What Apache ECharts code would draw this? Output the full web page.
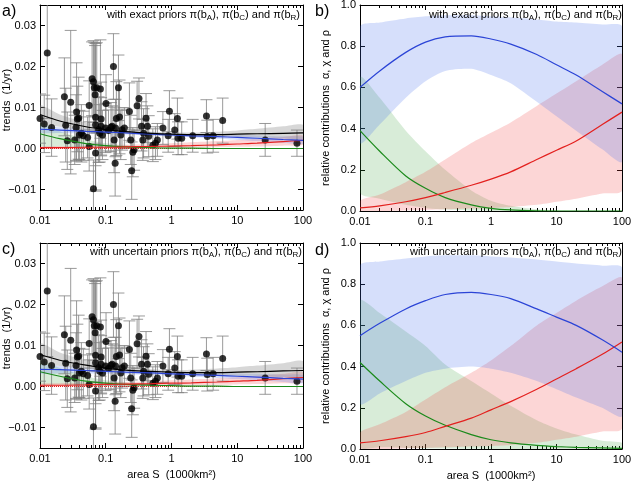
<!DOCTYPE html>
<html>
<head>
<meta charset="utf-8">
<script src="https://cdn.jsdelivr.net/npm/echarts@6/dist/echarts.min.js"></script>
<style>
  html, body { margin: 0; background: #fff; }
  #chart { width: 633px; height: 482px; }
</style>
</head>
<body>
<div id="chart"></div>
<script>
// observed trends (same set in a and c): area S, trend, error half-width
const obsS = [0.01, 0.0116, 0.0129, 0.015, 0.0235, 0.0246, 0.026, 0.0293, 0.0337, 0.0353,
  0.036, 0.037, 0.0387, 0.0397, 0.0426, 0.0457, 0.053, 0.056, 0.056, 0.062,
  0.065, 0.067, 0.069, 0.07, 0.07, 0.073, 0.07, 0.065, 0.078, 0.081,
  0.083, 0.085, 0.085, 0.089, 0.101, 0.099, 0.11, 0.12, 0.125, 0.131,
  0.134, 0.139, 0.141, 0.145, 0.156, 0.162, 0.169, 0.177, 0.192, 0.229,
  0.24, 0.248, 0.258, 0.27, 0.30, 0.32, 0.35, 0.366, 0.376, 0.41,
  0.43, 0.45, 0.52, 0.57, 0.61, 0.74, 0.93, 0.89, 1.12, 1.23,
  1.26, 1.43, 2.1, 3.4, 3.5, 4.3, 6.0, 26.6, 81];
const obsTrend = [0.0073, 0.0060, 0.0233, 0.0051, 0.0126, 0.0057, 0.0019, 0.0113, 0.0021, 0.0051,
  0.0089, 0.0072, 0.0074, 0.0033, 0.0037, 0.0031, 0.0027, 0.0105, 0.0005, 0.0170,
  0.0163, 0.0148, 0.0131, 0.0076, 0.0058, 0.0148, -0.0011, -0.0098, 0.0046, 0.0037,
  0.0145, 0.0072, 0.0054, 0.0033, 0.0110, 0.0050, 0.0044, 0.0052, 0.0054, 0.0200,
  0.0021, -0.0036, 0.0050, 0.0073, 0.0148, 0.0077, 0.0033, 0.0046, 0.0050, 0.0090,
  0.0021, -0.0054, -0.0009, -0.0003, 0.0104, 0.0122, 0.0054, 0.0021, 0.0037, 0.0074,
  0.0054, 0.0030, 0.0008, 0.0013, 0.0021, 0.0050, 0.0091, 0.0031, 0.0045, 0.0073,
  0.0025, 0.0025, 0.0031, 0.0079, 0.0029, 0.0031, 0.0068, 0.0021, 0.0013];
const obsErr = [0.006, 0.007, 0.016, 0.007, 0.0095, 0.009, 0.007, 0.0175, 0.006, 0.008,
  0.012, 0.008, 0.010, 0.006, 0.007, 0.006, 0.005, 0.006, 0.006, 0.009,
  0.010, 0.011, 0.012, 0.018, 0.010, 0.011, 0.009, 0.007, 0.008, 0.007,
  0.012, 0.009, 0.007, 0.006, 0.007, 0.006, 0.005, 0.006, 0.005, 0.008,
  0.008, 0.008, 0.007, 0.009, 0.008, 0.009, 0.006, 0.005, 0.005, 0.007,
  0.006, 0.007, 0.006, 0.005, 0.006, 0.005, 0.006, 0.005, 0.006, 0.006,
  0.005, 0.005, 0.004, 0.004, 0.004, 0.004, 0.005, 0.004, 0.004, 0.005,
  0.004, 0.004, 0.004, 0.004, 0.004, 0.004, 0.0055, 0.004, 0.0032];

// area values where the fitted curves were read
const sGrid = [0.01, 0.02, 0.05, 0.1, 0.2, 0.5, 1, 2, 5, 10, 20, 50, 100];

// panel a: exact priors, trends
const aBlack   = [0.0083, 0.0067, 0.0053, 0.0046, 0.0041, 0.0037, 0.0035, 0.0034, 0.0034, 0.0035, 0.0036, 0.0037, 0.0038];
const aBlackHi = [0.0105, 0.0083, 0.0063, 0.0053, 0.0046, 0.0041, 0.0039, 0.0039, 0.0041, 0.0044, 0.0048, 0.0054, 0.0058];
const aBlackLo = [0.0063, 0.0053, 0.0044, 0.0040, 0.0036, 0.0033, 0.0031, 0.0030, 0.0029, 0.0028, 0.0027, 0.0025, 0.0024];
const aBlue    = [0.0047, 0.0045, 0.0042, 0.0040, 0.0038, 0.0035, 0.0033, 0.0031, 0.0029, 0.0027, 0.0025, 0.0022, 0.0020];
const aBlueHi  = [0.0055, 0.0052, 0.0048, 0.0045, 0.0042, 0.0039, 0.0037, 0.0035, 0.0034, 0.0033, 0.0032, 0.0030, 0.0029];
const aBlueLo  = [0.0039, 0.0038, 0.0036, 0.0035, 0.0034, 0.0031, 0.0029, 0.0027, 0.0024, 0.0021, 0.0018, 0.0014, 0.0011];
const aGreen   = [0.0036, 0.0024, 0.0012, 0.0007, 0.0004, 0.0002, 0.0001, 0.0001, 0, 0, 0, 0, 0];
const aGreenHi = [0.0062, 0.0042, 0.0022, 0.0013, 0.0008, 0.0004, 0.0002, 0.0001, 0.0001, 0, 0, 0, 0];
const aGreenLo = [0.0008, 0.0005, 0.0002, 0.0001, 0, 0, 0, 0, 0, 0, 0, 0, 0];
const aRed     = [0.0002, 0.0002, 0.0003, 0.0003, 0.0004, 0.0005, 0.0006, 0.0007, 0.0009, 0.0011, 0.0013, 0.0017, 0.0020];
const aRedHi   = [0.0005, 0.0006, 0.0007, 0.0008, 0.0009, 0.0011, 0.0013, 0.0015, 0.0018, 0.0021, 0.0024, 0.0028, 0.0032];
const aRedLo   = [0, 0, 0, 0, 0, 0.0001, 0.0001, 0.0002, 0.0003, 0.0004, 0.0005, 0.0007, 0.0009];

// panel c: uncertain priors, trends
const cBlack   = [0.0078, 0.0064, 0.0052, 0.0045, 0.0040, 0.0037, 0.0035, 0.0034, 0.0034, 0.0035, 0.0036, 0.0038, 0.0039];
const cBlackHi = [0.0105, 0.0083, 0.0064, 0.0054, 0.0047, 0.0042, 0.0040, 0.0041, 0.0044, 0.0047, 0.0051, 0.0057, 0.0062];
const cBlackLo = [0.0058, 0.0050, 0.0043, 0.0039, 0.0035, 0.0033, 0.0031, 0.0029, 0.0027, 0.0026, 0.0025, 0.0023, 0.0022];
const cBlue    = [0.0042, 0.0041, 0.0039, 0.0037, 0.0035, 0.0033, 0.0031, 0.0029, 0.0027, 0.0025, 0.0023, 0.0020, 0.0018];
const cBlueHi  = [0.0052, 0.0050, 0.0046, 0.0043, 0.0040, 0.0038, 0.0036, 0.0034, 0.0033, 0.0032, 0.0031, 0.0029, 0.0028];
const cBlueLo  = [0.0032, 0.0032, 0.0032, 0.0031, 0.0030, 0.0028, 0.0026, 0.0024, 0.0021, 0.0018, 0.0015, 0.0011, 0.0008];
const cGreen   = [0.0036, 0.0025, 0.0013, 0.0008, 0.0005, 0.0003, 0.0002, 0.0001, 0.0001, 0, 0, 0, 0];
const cGreenHi = [0.0064, 0.0045, 0.0025, 0.0015, 0.0010, 0.0006, 0.0004, 0.0003, 0.0002, 0.0001, 0.0001, 0, 0];
const cGreenLo = [0.0008, 0.0005, 0.0002, 0.0001, 0, 0, 0, 0, 0, 0, 0, 0, 0];
const cRed     = [0.0003, 0.0003, 0.0004, 0.0005, 0.0006, 0.0007, 0.0008, 0.0009, 0.0011, 0.0013, 0.0015, 0.0019, 0.0022];
const cRedHi   = [0.0007, 0.0008, 0.0009, 0.0010, 0.0011, 0.0013, 0.0015, 0.0017, 0.0020, 0.0023, 0.0026, 0.0031, 0.0035];
const cRedLo   = [0, 0, 0, 0.0001, 0.0001, 0.0002, 0.0002, 0.0003, 0.0004, 0.0005, 0.0006, 0.0008, 0.0010];

// panel b: exact priors, relative contributions
const bBlue    = [0.60, 0.68, 0.77, 0.82, 0.845, 0.85, 0.835, 0.81, 0.76, 0.71, 0.66, 0.58, 0.52];
const bBlueHi  = [0.895, 0.915, 0.935, 0.945, 0.95, 0.95, 0.945, 0.94, 0.93, 0.92, 0.915, 0.905, 0.895];
const bBlueLo  = [0.33, 0.42, 0.55, 0.63, 0.68, 0.69, 0.66, 0.62, 0.53, 0.46, 0.39, 0.30, 0.24];
const bGreen   = [0.39, 0.29, 0.17, 0.11, 0.065, 0.03, 0.013, 0.005, 0.001, 0, 0, 0, 0];
const bGreenHi = [0.65, 0.55, 0.39, 0.29, 0.20, 0.10, 0.05, 0.025, 0.008, 0.003, 0.001, 0, 0];
const bGreenLo = [0.09, 0.06, 0.03, 0.015, 0.007, 0.002, 0, 0, 0, 0, 0, 0, 0];
const bRed     = [0.015, 0.025, 0.045, 0.065, 0.09, 0.125, 0.155, 0.19, 0.25, 0.295, 0.34, 0.42, 0.48];
const bRedHi   = [0.05, 0.08, 0.14, 0.19, 0.25, 0.33, 0.38, 0.43, 0.51, 0.57, 0.63, 0.71, 0.76];
const bRedLo   = [0, 0, 0.003, 0.005, 0.008, 0.012, 0.015, 0.02, 0.03, 0.045, 0.06, 0.085, 0.10];

// panel d: uncertain priors, relative contributions
const dBlue    = [0.55, 0.61, 0.68, 0.72, 0.75, 0.76, 0.75, 0.73, 0.68, 0.64, 0.60, 0.53, 0.47];
const dBlueHi  = [0.89, 0.91, 0.925, 0.935, 0.94, 0.94, 0.935, 0.93, 0.92, 0.91, 0.90, 0.89, 0.88];
const dBlueLo  = [0.22, 0.27, 0.33, 0.37, 0.39, 0.40, 0.39, 0.37, 0.33, 0.29, 0.25, 0.20, 0.16];
const dGreen   = [0.42, 0.33, 0.22, 0.16, 0.115, 0.07, 0.045, 0.03, 0.018, 0.012, 0.008, 0.005, 0.003];
const dGreenHi = [0.72, 0.66, 0.57, 0.50, 0.41, 0.33, 0.27, 0.21, 0.14, 0.10, 0.07, 0.04, 0.03];
const dGreenLo = [0.01, 0.008, 0.005, 0.003, 0.002, 0.001, 0, 0, 0, 0, 0, 0, 0];
const dRed     = [0.03, 0.04, 0.06, 0.08, 0.11, 0.15, 0.19, 0.23, 0.29, 0.34, 0.39, 0.46, 0.52];
const dRedHi   = [0.08, 0.12, 0.18, 0.24, 0.30, 0.37, 0.43, 0.50, 0.60, 0.66, 0.72, 0.79, 0.83];
const dRedLo   = [0, 0, 0.003, 0.005, 0.008, 0.012, 0.015, 0.02, 0.03, 0.045, 0.06, 0.085, 0.10];

const trendTicks = [-0.01, 0, 0.01, 0.02, 0.03];

// minor ticks of the log axis (2..9 in each decade), as log10 positions
const minorX = [];
for (let n = -2; n < 2; n++) {
  for (let k = 2; k <= 9; k++) minorX.push(Math.log10(k * Math.pow(10, n)));
}

const FONT = 'Liberation Sans';
const BLUE = '#2b44d6', RED = '#e3201e', GREEN = '#1b8a1b';
const BLUE_F = 'rgba(70,110,235,0.22)';
const RED_F = 'rgba(240,70,70,0.22)';
const GREEN_F = 'rgba(60,160,60,0.2)';
const GRAY_F = 'rgba(140,140,140,0.35)';

const grids = [
  { left: 40, top: 5, width: 263, height: 205 },
  { left: 360, top: 5, width: 262, height: 206 },
  { left: 40, top: 243, width: 263, height: 205 },
  { left: 360, top: 243, width: 262, height: 206 }
];

const line = { show: true, onZero: false, lineStyle: { color: '#000', width: 1 } };

let xAxes = [];
let yAxes = [];
grids.forEach((g, gi) => {
  const bottomRow = gi >= 2;
  xAxes.push({
    type: 'log', logBase: 10, gridIndex: gi, position: 'bottom', min: 0.01, max: 100,
    axisLine: line,
    axisTick: { inside: true, length: 5, lineStyle: { color: '#000' } },
    axisLabel: { color: '#000', fontSize: 11, fontFamily: FONT, margin: 5 },
    splitLine: { show: false },
    name: bottomRow ? 'area S  (1000km²)' : '',
    nameLocation: 'middle', nameGap: 21,
    nameTextStyle: { color: '#000', fontSize: 11, fontFamily: FONT }
  });
  xAxes.push({
    type: 'log', logBase: 10, gridIndex: gi, position: 'top', min: 0.01, max: 100,
    axisLine: line,
    axisTick: { inside: true, length: 5, lineStyle: { color: '#000' } },
    axisLabel: { show: false }, splitLine: { show: false }
  });
  ['bottom', 'top'].forEach(pos => {
    xAxes.push({
      type: 'value', gridIndex: gi, position: pos, min: -2, max: 2,
      axisLine: { show: false, onZero: false },
      axisTick: { inside: true, length: 3, customValues: minorX, lineStyle: { color: '#000' } },
      axisLabel: { show: false }, splitLine: { show: false }
    });
  });

  const isTrend = gi === 0 || gi === 2;
  const yBase = isTrend
    ? { min: -0.015, max: 0.035 }
    : { min: 0, max: 1, interval: 0.2 };
  yAxes.push(Object.assign({
    type: 'value', gridIndex: gi, position: 'left',
    axisLine: line,
    axisTick: isTrend
      ? { inside: true, length: 5, customValues: trendTicks, lineStyle: { color: '#000' } }
      : { inside: true, length: 5, lineStyle: { color: '#000' } },
    axisLabel: isTrend
      ? { customValues: trendTicks, color: '#000', fontSize: 11, fontFamily: FONT, margin: 4,
          formatter: v => (v < -1e-9 ? '\u2212' + Math.abs(v).toFixed(2) : Math.abs(v).toFixed(2)) }
      : { color: '#000', fontSize: 11, fontFamily: FONT, margin: 4, formatter: v => v.toFixed(1) },
    splitLine: { show: false },
    name: isTrend ? '' : 'relative contributions  \u03b1, \u03c7 and \u03c1',
    nameLocation: 'middle', nameGap: 29,
    nameTextStyle: { color: '#000', fontSize: 11, fontFamily: FONT }
  }, yBase));
  yAxes.push(Object.assign({
    type: 'value', gridIndex: gi, position: 'right',
    axisLine: line,
    axisTick: isTrend
      ? { inside: true, length: 5, customValues: trendTicks, lineStyle: { color: '#000' } }
      : { inside: true, length: 5, lineStyle: { color: '#000' } },
    axisLabel: { show: false }, splitLine: { show: false }
  }, yBase));
});

function band(gi, hi, lo, color) {
  return {
    type: 'custom', xAxisIndex: gi * 4, yAxisIndex: gi * 2, clip: true, silent: true, z: 1,
    data: [[1, 0]], encode: { x: 0, y: 1 },
    renderItem: (params, api) => {
      const top = sGrid.map((s, i) => api.coord([s, hi[i]]));
      const bot = sGrid.map((s, i) => api.coord([s, lo[i]])).reverse();
      return { type: 'polygon', shape: { points: top.concat(bot), smooth: 0.25 }, style: { fill: color } };
    }
  };
}

function curve(gi, ys, color) {
  return {
    type: 'line', xAxisIndex: gi * 4, yAxisIndex: gi * 2, silent: true, z: 6,
    data: sGrid.map((s, i) => [s, ys[i]]),
    smooth: 0.3, symbol: 'none',
    lineStyle: { color: color, width: 1.2 }
  };
}

function errorBars(gi) {
  return {
    type: 'custom', xAxisIndex: gi * 4, yAxisIndex: gi * 2, clip: true, silent: true, z: 3,
    data: obsS.map((s, i) => [s, obsTrend[i], obsErr[i]]),
    encode: { x: 0, y: 1 },
    renderItem: (params, api) => {
      const x = api.value(0), y = api.value(1), e = api.value(2);
      const p1 = api.coord([x, y + e]);
      const p2 = api.coord([x, y - e]);
      const w = 6;
      const st = { stroke: '#808080', lineWidth: 0.8 };
      return {
        type: 'group', children: [
          { type: 'line', shape: { x1: p1[0], y1: p1[1], x2: p2[0], y2: p2[1] }, style: st },
          { type: 'line', shape: { x1: p1[0] - w, y1: p1[1], x2: p1[0] + w, y2: p1[1] }, style: st },
          { type: 'line', shape: { x1: p2[0] - w, y1: p2[1], x2: p2[0] + w, y2: p2[1] }, style: st }
        ]
      };
    }
  };
}

function points(gi) {
  return {
    type: 'scatter', xAxisIndex: gi * 4, yAxisIndex: gi * 2, silent: true, z: 4,
    data: obsS.map((s, i) => [s, obsTrend[i]]),
    symbolSize: 7, itemStyle: { color: '#000' }
  };
}

function zeroLine(gi) {
  return {
    type: 'line', xAxisIndex: gi * 4, yAxisIndex: gi * 2, silent: true, z: 5,
    data: [[0.01, 0], [100, 0]], symbol: 'none',
    lineStyle: { color: '#e3201e', width: 1, type: 'dotted' }
  };
}

function trendPanel(gi, f) {
  return [
    band(gi, f.gHi, f.gLo, GREEN_F),
    band(gi, f.rHi, f.rLo, RED_F),
    band(gi, f.bHi, f.bLo, BLUE_F),
    band(gi, f.kHi, f.kLo, GRAY_F),
    errorBars(gi),
    points(gi),
    zeroLine(gi),
    curve(gi, f.g, GREEN),
    curve(gi, f.r, RED),
    curve(gi, f.b, BLUE),
    curve(gi, f.k, '#000')
  ];
}

function sharePanel(gi, f) {
  return [
    band(gi, f.gHi, f.gLo, GREEN_F),
    band(gi, f.rHi, f.rLo, RED_F),
    band(gi, f.bHi, f.bLo, BLUE_F),
    curve(gi, f.g, GREEN),
    curve(gi, f.r, RED),
    curve(gi, f.b, BLUE)
  ];
}

const series = [].concat(
  trendPanel(0, { k: aBlack, kHi: aBlackHi, kLo: aBlackLo, b: aBlue, bHi: aBlueHi, bLo: aBlueLo,
    g: aGreen, gHi: aGreenHi, gLo: aGreenLo, r: aRed, rHi: aRedHi, rLo: aRedLo }),
  sharePanel(1, { b: bBlue, bHi: bBlueHi, bLo: bBlueLo, g: bGreen, gHi: bGreenHi, gLo: bGreenLo,
    r: bRed, rHi: bRedHi, rLo: bRedLo }),
  trendPanel(2, { k: cBlack, kHi: cBlackHi, kLo: cBlackLo, b: cBlue, bHi: cBlueHi, bLo: cBlueLo,
    g: cGreen, gHi: cGreenHi, gLo: cGreenLo, r: cRed, rHi: cRedHi, rLo: cRedLo }),
  sharePanel(3, { b: dBlue, bHi: dBlueHi, bLo: dBlueLo, g: dGreen, gHi: dGreenHi, gLo: dGreenLo,
    r: dRed, rHi: dRedHi, rLo: dRedLo })
);

const rich = {
  s: { fontSize: 8, fontFamily: FONT, color: '#000', verticalAlign: 'bottom', lineHeight: 9 }
};
const exactTxt = 'with exact priors \u03c0(b{s|A}), \u03c0(b{s|C}) and \u03c0(b{s|R})';
const uncTxt = 'with uncertain priors \u03c0(b{s|A}), \u03c0(b{s|C}) and \u03c0(b{s|R})';
const noteStyle = { fontSize: 11, fontWeight: 'normal', fontFamily: FONT, color: '#000', lineHeight: 14, rich: rich };
const letterStyle = { fontSize: 16, fontWeight: 'normal', fontFamily: FONT, color: '#000' };

// y titles of the trend panels
const trendName = (cy) => ({
  type: 'text', x: 7, y: cy, rotation: Math.PI / 2, silent: true,
  style: { text: 'trends  (1/yr)', fill: '#000', font: '11px "Liberation Sans"', align: 'center', verticalAlign: 'middle' }
});

const chart = echarts.init(document.getElementById('chart'), null, { renderer: 'canvas' });
chart.setOption({
  animation: false,
  backgroundColor: '#fff',
  textStyle: { fontFamily: FONT },
  title: [
    { text: 'a)', left: 2, top: 4, padding: 0, textStyle: letterStyle },
    { text: 'b)', left: 315, top: 4, padding: 0, textStyle: letterStyle },
    { text: 'c)', left: 2, top: 242, padding: 0, textStyle: letterStyle },
    { text: 'd)', left: 315, top: 243, padding: 0, textStyle: letterStyle },
    { text: exactTxt, right: 333, top: 8, padding: 0, textStyle: noteStyle },
    { text: exactTxt, right: 11, top: 8, padding: 0, textStyle: noteStyle },
    { text: uncTxt, right: 331, top: 245, padding: 0, textStyle: noteStyle },
    { text: uncTxt, right: 11, top: 245, padding: 0, textStyle: noteStyle }
  ],
  graphic: [trendName(100), trendName(338)],
  grid: grids.map(g => Object.assign({ show: false, containLabel: false, outerBoundsMode: 'none' }, g)),
  xAxis: xAxes,
  yAxis: yAxes,
  series: series
});

window.onresize = function () {
  chart.resize();
};
</script>
</body>
</html>
